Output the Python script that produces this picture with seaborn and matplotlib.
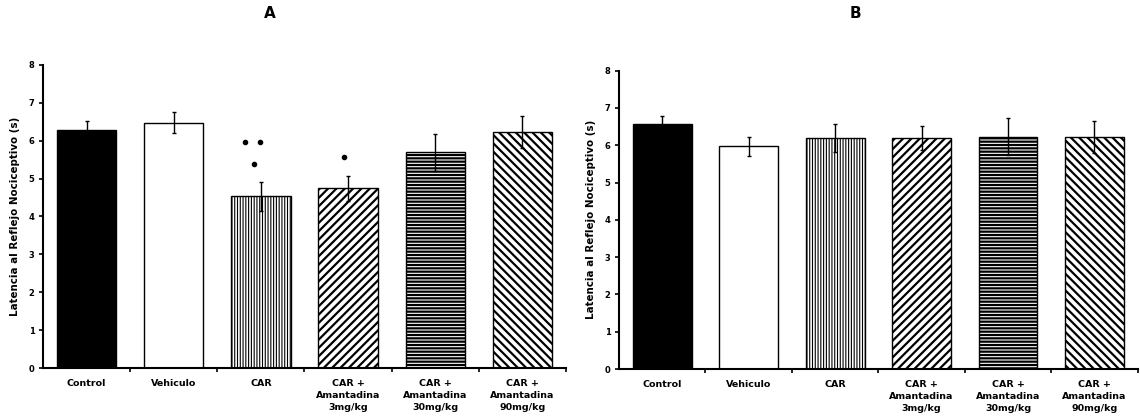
import matplotlib
matplotlib.use("Agg")
import matplotlib.pyplot as plt
import seaborn as sns
import numpy as np
import pandas as pd

# Groups and tick labels
categories = ["Control", "Vehiculo", "CAR", "CAR 3", "CAR 30", "CAR 90"]
tick_labels = ["Control", "Vehiculo", "CAR",
               "CAR +\nAmantadina\n3mg/kg",
               "CAR +\nAmantadina\n30mg/kg",
               "CAR +\nAmantadina\n90mg/kg"]

# Panel A: latency means and SEM
means_a = [6.29, 6.48, 4.53, 4.74, 5.70, 6.23]
sem_a = [0.22, 0.27, 0.38, 0.34, 0.49, 0.42]

# Panel B: latency means and SEM
means_b = [6.58, 5.97, 6.19, 6.20, 6.23, 6.22]
sem_b = [0.20, 0.25, 0.37, 0.32, 0.49, 0.44]

face_colors = ["black", "white", "white", "white", "white", "white"]
hatches = [None, None, "||||||", "////", "-----", "\\\\\\\\"]

sns.set_theme(style="white")
plt.rcParams["font.family"] = ["DejaVu Sans"]
plt.rcParams["hatch.linewidth"] = 1.4
for key in ("text.color", "axes.labelcolor", "xtick.color", "ytick.color"):
    plt.rcParams[key] = "black"

fig = plt.figure(figsize=(11.4, 4.19), dpi=100)
ax_a = fig.add_axes([0.0377, 0.1217, 0.4588, 0.7232])
ax_b = fig.add_axes([0.5430, 0.1193, 0.4550, 0.7120])


def draw_panel(ax, means, sems, title, title_x):
    df = pd.DataFrame({"grupo": categories, "latencia": means})
    sns.barplot(data=df, x="grupo", y="latencia", hue="grupo",
                palette=face_colors, edgecolor="black", linewidth=1.0,
                width=0.68, errorbar=None, legend=False, ax=ax)
    for patch, h in zip(ax.patches, hatches):
        if h:
            patch.set_hatch(h)
            if hasattr(patch, "set_hatch_linewidth"):
                patch.set_hatch_linewidth(0.8 if h.startswith("|") else 1.6)
    x = np.arange(len(categories))
    ax.errorbar(x, means, yerr=sems, fmt="none", ecolor="black",
                elinewidth=1.0, capsize=1.5, capthick=1.0)

    ax.set_xlim(-0.5, 5.5)
    ax.set_ylim(0, 8)
    ax.set_yticks(range(0, 9))
    ax.set_yticklabels([str(v) for v in range(0, 9)],
                       fontsize=6, fontweight="bold")
    ax.set_xticks(x)
    ax.set_xticklabels(tick_labels, fontsize=6.8, fontweight="bold",
                       linespacing=1.45)
    ax.set_xticks(np.arange(0.5, 6.0, 1.0), minor=True)
    ax.tick_params(axis="x", which="major", length=0, pad=8)
    ax.tick_params(axis="x", which="minor", length=3, width=1.2,
                   direction="out", bottom=True, color="black")
    ax.tick_params(axis="y", length=3, width=1.2, direction="out",
                   left=True, color="black", pad=3)
    ax.set_xlabel("")
    ax.set_ylabel("Latencia al Reflejo Nociceptivo (s)", fontsize=7.4,
                  fontweight="bold", labelpad=6)
    for side in ("top", "right"):
        ax.spines[side].set_visible(False)
    for side in ("left", "bottom"):
        ax.spines[side].set_color("black")
        ax.spines[side].set_linewidth(1.5)
    fig.text(title_x, 0.968, title, fontsize=11, fontweight="bold",
             ha="center", va="center")


draw_panel(ax_a, means_a, sem_a, "A", 0.237)
draw_panel(ax_b, means_b, sem_b, "B", 0.750)

# Significance asterisks above CAR and CAR + 3mg/kg
ax_a.plot([2 - 0.18, 2 - 0.01], [5.96, 5.96], linestyle="none",
          marker="o", markersize=3, color="black")
ax_a.plot([2 - 0.08], [5.39], linestyle="none", marker="o",
          markersize=3, color="black")
ax_a.plot([3 - 0.05], [5.57], linestyle="none", marker="o",
          markersize=3, color="black")

fig.savefig("out.png", dpi=100, facecolor="white")
